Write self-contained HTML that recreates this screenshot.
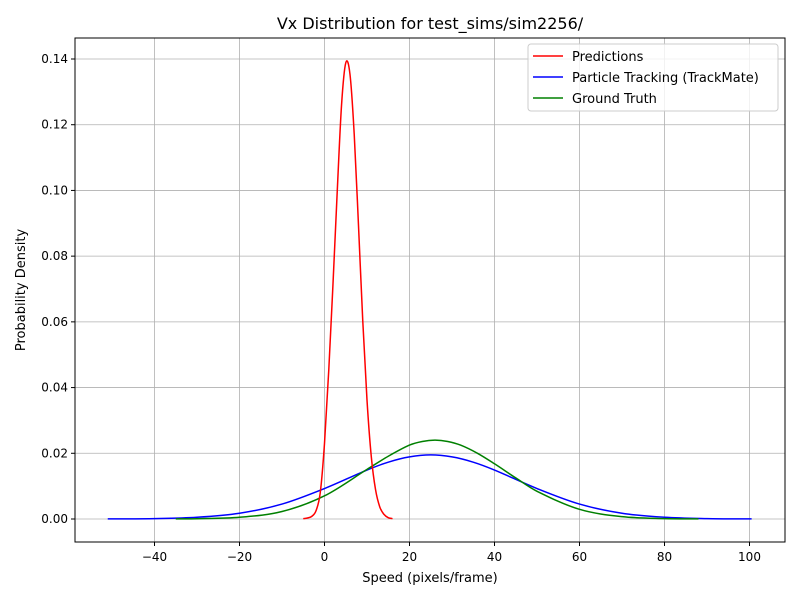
<!DOCTYPE html>
<html><head><meta charset="utf-8"><style>
body{margin:0;background:#fff;font-family:"Liberation Sans","DejaVu Sans",sans-serif}
svg text{font-family:"DejaVu Sans","Liberation Sans",sans-serif}
</style></head><body>
<svg id="chart" width="800" height="600" xmlns="http://www.w3.org/2000/svg">
<rect width="800" height="600" fill="#fff"/>
<g id="grid"></g>
<g id="series"></g>
<rect x="75" y="38" width="710" height="504" fill="none" stroke="#000" stroke-width="1"/>
<g id="ticks"></g>
<text x="430" y="29" text-anchor="middle" font-size="16">Vx Distribution for test_sims/sim2256/</text>
<text x="430" y="582" text-anchor="middle" font-size="13">Speed (pixels/frame)</text>
<text transform="translate(25,290) rotate(-90)" text-anchor="middle" font-size="13">Probability Density</text>
<g>
<rect x="528" y="44" width="250" height="67" rx="3" fill="#fff" fill-opacity="0.8" stroke="#ccc"/>
<line x1="533" y1="56" x2="563" y2="56" stroke="red" stroke-width="1.5"/>
<text x="572" y="61" font-size="13">Predictions</text>
<line x1="533" y1="77" x2="563" y2="77" stroke="blue" stroke-width="1.5"/>
<text x="572" y="82" font-size="13">Particle Tracking (TrackMate)</text>
<line x1="533" y1="98" x2="563" y2="98" stroke="green" stroke-width="1.5"/>
<text x="572" y="103" font-size="13">Ground Truth</text>
</g>
</svg>
<script>
const xTicks=[-40,-20,0,20,40,60,80,100];
const yTicks=[0,0.02,0.04,0.06,0.08,0.10,0.12,0.14];
const yTickLabels=["0.00","0.02","0.04","0.06","0.08","0.10","0.12","0.14"];
const predX=[-5,-4,-3,-2,-1,0,1,2,3,4,5,6,7,8,9,10,11,12,13,14,15,16];
const predY=[0.0001,0.0003,0.0008,0.0025,0.0080,0.0230,0.0452,0.0716,0.0998,0.1258,0.1388,0.1353,0.1169,0.0893,0.0604,0.0362,0.0191,0.0090,0.0037,0.0014,0.0004,0.0001];
const trackX=[-51,-40,-30,-20,-10,0,10,15,20,25,30,35,40,50,60,70,80,90,100.5];
const trackY=[0.00002,0.00013,0.00053,0.00175,0.00454,0.00927,0.0149,0.0173,0.0189,0.0195,0.0189,0.0173,0.0149,0.00927,0.00454,0.00175,0.00053,0.00013,0.00002];
const gtX=[-35,-30,-20,-10,0,10,15,20,23,26,29,32,36,40,45,50,60,70,80,88];
const gtY=[0.00003,0.00008,0.00052,0.00228,0.00705,0.0151,0.0191,0.0225,0.0236,0.0240,0.0236,0.0225,0.0200,0.0168,0.0125,0.00844,0.00294,0.00072,0.00012,0.00002];
const xs=v=>324.5+v*4.25;
const ys=v=>519-v*(460/0.14);
const NS="http://www.w3.org/2000/svg";
function mk(t,a,p){const e=document.createElementNS(NS,t);for(const k in a)e.setAttribute(k,a[k]);p.appendChild(e);return e;}
const grid=document.getElementById('grid'),ticks=document.getElementById('ticks'),ser=document.getElementById('series');
xTicks.forEach(v=>{const x=xs(v);
 const g=mk('line',{x1:x,x2:x,y1:38,y2:542,stroke:'#b0b0b0','stroke-width':0.8},grid);
 
 
 mk('line',{x1:x,x2:x,y1:542,y2:546,stroke:'#000'},ticks);
 const t=mk('text',{x:x,y:561,'text-anchor':'middle','font-size':12},ticks);t.textContent=v<0?'\u2212'+(-v):v;
 
 
});
yTicks.forEach((v,i)=>{const y=ys(v);
 const g=mk('line',{x1:75,x2:785,y1:y,y2:y,stroke:'#b0b0b0','stroke-width':0.8},grid);
 
 
 mk('line',{x1:71,x2:75,y1:y,y2:y,stroke:'#000'},ticks);
 const t=mk('text',{x:68,y:y+4,'text-anchor':'end','font-size':12},ticks);t.textContent=yTickLabels[i];
 
 
});
function path(X,Y){const p=X.map((x,i)=>[xs(x),ys(Y[i])]);let d='M'+p[0][0]+','+p[0][1];
 for(let i=0;i<p.length-1;i++){const p0=p[Math.max(0,i-1)],p1=p[i],p2=p[i+1],p3=p[Math.min(p.length-1,i+2)];
  const h=p2[0]-p1[0];
  const m1=(p2[1]-p0[1])/(p2[0]-p0[0]||1),m2=(p3[1]-p1[1])/(p3[0]-p1[0]||1);
  let c1y=p1[1]+m1*h/3,c2y=p2[1]-m2*h/3;
  c1y=Math.min(c1y,519);c2y=Math.min(c2y,519);
  d+=' C'+(p1[0]+h/3)+','+c1y+' '+(p2[0]-h/3)+','+c2y+' '+p2[0]+','+p2[1];}
 return d;}
const s1=mk('path',{d:path(trackX,trackY),fill:'none',stroke:'blue','stroke-width':1.5},ser);


const s2=mk('path',{d:path(gtX,gtY),fill:'none',stroke:'green','stroke-width':1.5},ser);


const s3=mk('path',{d:path(predX,predY),fill:'none',stroke:'red','stroke-width':1.5},ser);


</script>
</body></html>
